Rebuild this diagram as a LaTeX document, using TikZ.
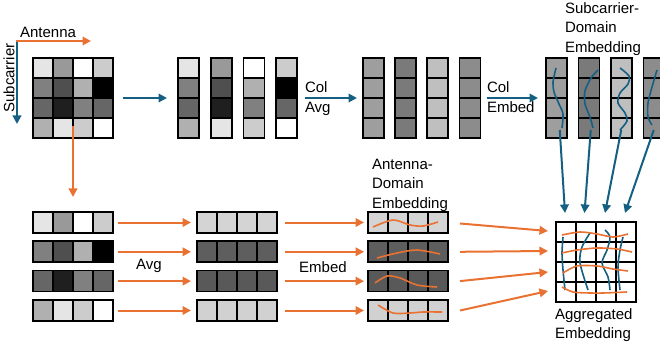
\documentclass[tikz,border=0pt]{standalone}
\usepackage{fontspec}
\setmainfont{Liberation Sans}
\usetikzlibrary{arrows.meta}
\definecolor{tblue}{HTML}{156082}
\definecolor{torange}{HTML}{E97132}
\tikzset{
  cell/.style={draw=black, line width=1.7pt},
  grp/.style={inner sep=0pt, outer sep=0pt, minimum width=#1},
  barrow/.style={draw=tblue, line width=2pt, -{Triangle[length=8.5pt,width=8.5pt]}},
  oarrow/.style={draw=torange, line width=2pt, -{Triangle[length=8.5pt,width=8.5pt]}},
  lbl/.style={font=\fontsize{15}{19.5}\selectfont, align=left, inner sep=0pt, outer sep=0pt},
  bcurve/.style={draw=tblue, line width=1.6pt},
  ocurve/.style={draw=torange, line width=1.6pt}
}
\begin{document}
\begin{tikzpicture}[x=1pt,y=-1pt]
\useasboundingbox (0,0) rectangle (660,347);
\clip (0,0) rectangle (660,347);

% ---------- axes ----------
\coordinate (orig) at (17,41);
\coordinate (antEnd) at (91,41);
\coordinate (subEnd) at (17,124);
\draw[barrow] (orig) -- (subEnd);
\draw[oarrow] ([xshift=-1pt]orig) -- (antEnd);
\node[lbl] (antLbl) at (48,32) {Antenna};
\node[lbl, rotate=90] (subLbl) at (9,78) {Subcarrier};

% ---------- input matrix ----------
\foreach \v [count=\i from 0] in {90,60,100,80,50,31,69,0,40,12,50,40,69,90,80,100} {
  \pgfmathtruncatemacro\c{mod(\i,4)}
  \pgfmathtruncatemacro\r{div(\i,4)}
  \filldraw[cell, fill=white!\v!black] (33+\c*20, 58+\r*20) rectangle ++(20,20);
}
\node[grp=80pt, minimum height=80pt] (M0) at (73,98) {};

% ---------- split columns ----------
\foreach \x/\a/\b/\c/\d in {178/90/50/40/69, 211/60/31/12/90, 243.5/100/69/50/80, 276/80/0/40/100} {
  \filldraw[cell, fill=white!\a!black] (\x,58) rectangle ++(21,20);
  \filldraw[cell, fill=white!\b!black] (\x,78) rectangle ++(21,20);
  \filldraw[cell, fill=white!\c!black] (\x,98) rectangle ++(21,20);
  \filldraw[cell, fill=white!\d!black] (\x,118) rectangle ++(21,20);
}
\node[grp=119pt, minimum height=80pt] (C1) at (237.5,98) {};

% ---------- averaged columns ----------
\foreach \x/\a in {363/62, 395/48, 427/75, 459.5/55} {
  \foreach \r in {0,1,2,3} {
    \filldraw[cell, fill=white!\a!black] (\x,58+\r*20) rectangle ++(21,20);
  }
}
\node[grp=117.5pt, minimum height=80pt] (C2) at (421.75,98) {};

% ---------- subcarrier-domain embedding ----------
\foreach \x/\a in {546/62, 578.5/48, 611/75, 643.5/55} {
  \foreach \r in {0,1,2,3} {
    \filldraw[cell, fill=white!\a!black] (\x,58+\r*20) rectangle ++(21,20);
  }
}
\node[grp=118.5pt, minimum height=80pt] (C3) at (605.25,98) {};
\draw[bcurve] plot[smooth] coordinates {(556,68) (553,82) (554,92) (559,104) (563,114) (562,128)};
\draw[bcurve] plot[smooth] coordinates {(598,70) (591,78) (585,91) (585,104) (590,117) (593,128)};
\draw[bcurve] plot[smooth] coordinates {(620,68) (629,76) (628,84) (620,93) (618,103) (625,113) (627,121) (620,130)};
\draw[bcurve] plot[smooth] coordinates {(657,70) (652,87) (648,103) (648,117) (652,125)};

% ---------- top arrows and labels ----------
\draw[barrow] (M0.east) ++(10,0) coordinate (a1s) -- ([xshift=-11pt]C1.west);
\draw[barrow] ([xshift=8pt]C1.east) -- ([xshift=-6pt]C2.west);
\draw[barrow] ([xshift=6pt]C2.east) -- ([xshift=-8pt]C3.west);
\node[lbl, anchor=north west] (colAvg) at (305,82) {Col\\Avg};
\node[lbl, anchor=north west] (colEmb) at (487,82) {Col\\Embed};
\node[lbl, anchor=north west] (subDom) at (565,2.5) {Subcarrier-\\Domain\\Embedding};

% ---------- aggregated embedding ----------
\foreach \c in {0,1,2,3} {
  \foreach \r in {0,1,2,3} {
    \filldraw[cell, fill=white] (556+\c*20,222+\r*20) rectangle ++(20,20);
  }
}
\node[grp=80pt, minimum height=80pt] (AG) at (596,262) {};
\draw[bcurve] plot[smooth] coordinates {(563,237) (562,253) (563,270) (565,290)};
\draw[bcurve] plot[smooth] coordinates {(590,233) (582,247) (580,263) (588,290)};
\draw[bcurve] plot[smooth] coordinates {(605,230) (610,237) (607,250) (602,263) (608,277) (610,290)};
\draw[bcurve] plot[smooth] coordinates {(623,237) (620,250) (618,267) (620,290)};
\draw[ocurve] plot[smooth] coordinates {(562,235) (580,232) (597,234) (613,237) (628,234)};
\draw[ocurve] plot[smooth] coordinates {(562,253) (577,250) (597,248) (617,249) (632,252)};
\draw[ocurve] plot[smooth] coordinates {(563,273) (577,266) (597,266) (613,269) (628,271)};
\draw[ocurve] plot[smooth] coordinates {(562,287) (573,292) (590,293) (603,293) (627,292)};
\node[lbl, anchor=north west] (aggLbl) at (555,308.5) {Aggregated\\Embedding};

% blue arrows into aggregated
\coordinate (t1) at (565,213); \coordinate (t2) at (584.5,213);
\coordinate (t3) at (605,213); \coordinate (t4) at (625,213);
\draw[barrow] ([xshift=-45.5pt,yshift=8pt]C3.south) -- (t1);
\draw[barrow] ([xshift=-14.5pt,yshift=8pt]C3.south) -- (t2);
\draw[barrow] ([xshift=16pt,yshift=8pt]C3.south) -- (t3);
\draw[barrow] ([xshift=48.5pt,yshift=8pt]C3.south) -- (t4);

% ---------- orange down arrow ----------
\coordinate (rowTop) at (73,197);
\draw[oarrow] ([yshift=12pt]M0.south) -- (rowTop);

% ---------- antenna rows ----------
\foreach \y/\a/\b/\c/\d [count=\k] in {212/90/60/100/80, 241.3/50/31/69/0, 270.6/40/12/50/40, 300/69/90/80/100} {
  \filldraw[cell, fill=white!\a!black] (33,\y) rectangle ++(20,21);
  \filldraw[cell, fill=white!\b!black] (53,\y) rectangle ++(20,21);
  \filldraw[cell, fill=white!\c!black] (73,\y) rectangle ++(20,21);
  \filldraw[cell, fill=white!\d!black] (93,\y) rectangle ++(20,21);
  \node[grp=80pt, minimum height=21pt] (R\k) at (73,\y+10.5) {};
}
\foreach \y/\a [count=\k] in {212/83, 241.3/37, 270.6/35, 300/82} {
  \foreach \c in {0,1,2,3} {
    \filldraw[cell, fill=white!\a!black] (197+\c*20,\y) rectangle ++(20,21);
  }
  \node[grp=80pt, minimum height=21pt] (S\k) at (237,\y+10.5) {};
  \foreach \c in {0,1,2,3} {
    \filldraw[cell, fill=white!\a!black] (368+\c*20,\y) rectangle ++(20,21);
  }
  \node[grp=80pt, minimum height=21pt] (E\k) at (408,\y+10.5) {};
}
\draw[ocurve] plot[smooth] coordinates {(373,227) (393,220) (410,225) (423,226) (438,222)};
\draw[ocurve] plot[smooth] coordinates {(377,258) (397,253) (417,250) (440,254)};
\draw[ocurve] plot[smooth] coordinates {(375,283) (387,276) (400,278) (417,285) (437,287)};
\draw[ocurve] plot[smooth] coordinates {(378,305) (393,313) (410,313) (423,312) (442,312)};

\foreach \k in {1,2,3,4} {
  \draw[oarrow] ([xshift=5pt]R\k.east) -- ([xshift=-6pt]S\k.west);
  \draw[oarrow] ([xshift=8pt]S\k.east) -- ([xshift=-4pt]E\k.west);
}
\node[lbl] (avgLbl) at (149,266) {Avg};
\node[lbl] (embLbl) at (323,267) {Embed};
\node[lbl, anchor=north west] (antDom) at (372,159) {Antenna-\\Domain\\Embedding};

% orange arrows into aggregated
\coordinate (u1) at (548,231); \coordinate (u2) at (548,251);
\coordinate (u3) at (548,272); \coordinate (u4) at (548,291);
\draw[oarrow] ([xshift=12pt,yshift=-1pt]E1.east) -- (u1);
\draw[oarrow] ([xshift=12pt]E2.east) -- (u2);
\draw[oarrow] ([xshift=12pt]E3.east) -- (u3);
\draw[oarrow] ([xshift=12pt]E4.east) -- (u4);
\end{tikzpicture}
\end{document}
